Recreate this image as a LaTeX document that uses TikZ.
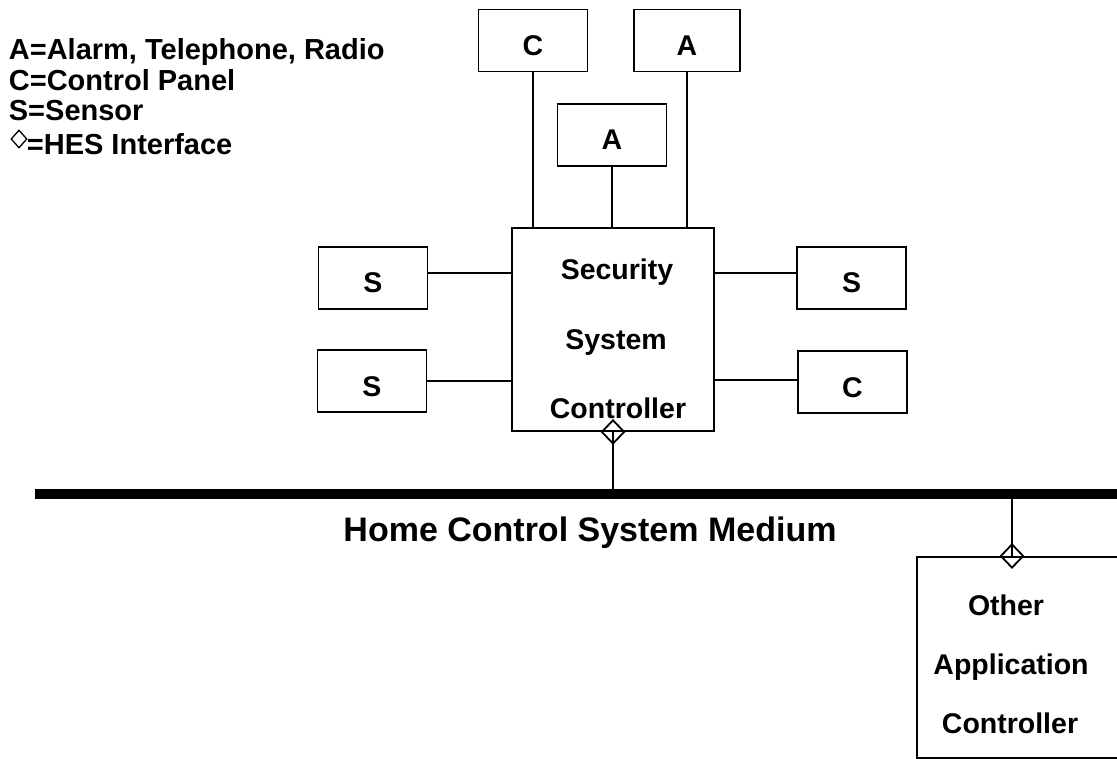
\documentclass[tikz,border=0pt]{standalone}
\usepackage{fontspec}
\setmainfont{Liberation Sans}
\usetikzlibrary{shapes.geometric}

\begin{document}
\begin{tikzpicture}[x=1pt, y=-1pt, line width=1.8pt,
    unit/.style={draw, minimum width=109pt, minimum height=62pt, inner sep=0pt,
      text height=30pt, text depth=0pt, font=\fontsize{28.5}{28.5}\selectfont\bfseries},
    hes/.style={diamond, draw, minimum width=23pt, minimum height=24pt, inner sep=0pt},
    txt/.style={anchor=base, inner sep=0pt, font=\fontsize{28.5}{28.5}\selectfont\bfseries},
    key/.style={anchor=base west, inner sep=0pt, font=\fontsize{29}{29}\selectfont\bfseries}]
  \clip (0,0) rectangle (1117,759);
  % legend
  \node[key] (legA) at (8,60) {A=Alarm, Telephone, Radio};
  \node[key] (legC) at (8,91) {C=Control Panel};
  \node[key] (legS) at (8,121) {S=Sensor};
  \node[hes, minimum width=16pt, minimum height=18pt, line width=1.3pt] (legHes) at (19,139) {};
  \node[key] (legHesTxt) at (26,155) {=HES Interface};
  % security system controller and its units
  \node[draw, minimum width=202pt, minimum height=203pt] (ssc) at (613,329.5) {};
  \node[txt] (sscA) at (617,280) {Security};
  \node[txt] (sscB) at (616,350) {System};
  \node[txt] (sscC) at (618,418) {Controller};
  \node[unit] (cTop) at (533,40.5) {C};
  \node[unit, minimum width=106pt] (aTop) at (687,40.5) {A};
  \node[unit] (aMid) at (612,135) {A};
  \node[unit] (sTL) at (373,278) {S};
  \node[unit] (sBL) at (372,381) {S};
  \node[unit] (sTR) at (851.5,278) {S};
  \node[unit] (cBR) at (852.5,382) {C};
  \path
    (cTop.south) edge (cTop.south |- ssc.north)
    (aMid.south) edge (aMid.south |- ssc.north)
    (aTop.south) edge (aTop.south |- ssc.north)
    ([yshift=5pt]sTL.east) edge ([yshift=5pt]sTL.east -| ssc.west)
    (sBL.east) edge (sBL.east -| ssc.west)
    ([yshift=5pt]sTR.west) edge ([yshift=5pt]sTR.west -| ssc.east)
    ([yshift=2pt]cBR.west) edge ([yshift=2pt]cBR.west -| ssc.east);
  % medium
  \coordinate (busW) at (35,494);
  \coordinate (busE) at (1130,494);
  \node[hes] (sscHes) at (ssc.south) {};
  \path (sscHes.center) edge (sscHes.center |- busW);
  \draw[line width=10pt] (busW) -- (busE);
  \node[txt, font=\fontsize{34}{34}\selectfont\bfseries] (busLbl) at (590,541)
    {Home Control System Medium};
  % other application controller
  \node[draw, anchor=north west, minimum width=215pt, minimum height=201pt] (oac) at (916,556) {};
  \node[hes] (oacHes) at (1012,556) {};
  \path (oacHes.center) edge (oacHes.center |- busW);
  \node[txt] (oacA) at (1006,615) {Other};
  \node[txt] (oacB) at (1011,674) {Application};
  \node[txt] (oacC) at (1010,733) {Controller};
\end{tikzpicture}
\end{document}
